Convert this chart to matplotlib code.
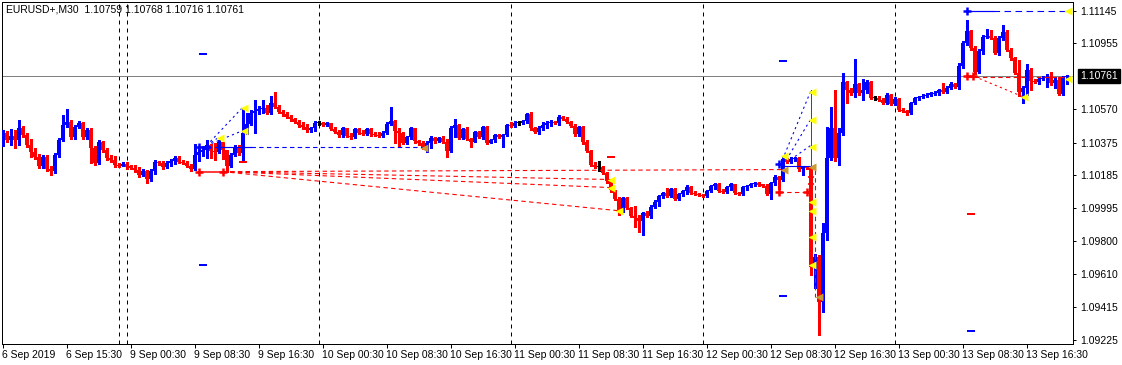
"""EURUSD+ M30 candle chart with the indicator overlays, MT4 style."""

import matplotlib
matplotlib.use("Agg")
import matplotlib.pyplot as plt
import numpy as np

# ---- price data (one entry per 30-minute bar, oldest first) ----
first_open = 1.10374

closes = [
    1.10433, 1.10392, 1.10415, 1.10392, 1.10462, 1.10421, 1.10363, 1.10322, 1.10293, 1.10240,
    1.10293, 1.10223, 1.10211, 1.10304, 1.10392, 1.10479, 1.10497, 1.10409, 1.10468, 1.10491,
    1.10409, 1.10450, 1.10345, 1.10258, 1.10380, 1.10334, 1.10287, 1.10275, 1.10246, 1.10240,
    1.10252, 1.10234, 1.10229, 1.10217, 1.10188, 1.10211, 1.10164, 1.10211, 1.10264, 1.10258,
    1.10234, 1.10258, 1.10269, 1.10287, 1.10264, 1.10258, 1.10240, 1.10223, 1.10304, 1.10322,
    1.10334, 1.10363, 1.10328, 1.10322, 1.10380, 1.10334, 1.10240, 1.10304, 1.10351, 1.10316,
    1.10433, 1.10485, 1.10550, 1.10561, 1.10573, 1.10579, 1.10550, 1.10608, 1.10585, 1.10555,
    1.10544, 1.10526, 1.10515, 1.10497, 1.10479, 1.10468, 1.10450, 1.10462, 1.10491, 1.10491,
    1.10479, 1.10491, 1.10456, 1.10439, 1.10421, 1.10462, 1.10415, 1.10409, 1.10456, 1.10433,
    1.10427, 1.10456, 1.10427, 1.10421, 1.10415, 1.10433, 1.10485, 1.10503, 1.10444, 1.10433,
    1.10374, 1.10409, 1.10462, 1.10386, 1.10374, 1.10351, 1.10374, 1.10404, 1.10386, 1.10404,
    1.10380, 1.10328, 1.10462, 1.10479, 1.10404, 1.10456, 1.10398, 1.10380, 1.10439, 1.10409,
    1.10468, 1.10374, 1.10392, 1.10421, 1.10409, 1.10421, 1.10479, 1.10474, 1.10491, 1.10491,
    1.10503, 1.10544, 1.10462, 1.10439, 1.10462, 1.10479, 1.10491, 1.10497, 1.10491, 1.10526,
    1.10515, 1.10497, 1.10474, 1.10427, 1.10468, 1.10380, 1.10328, 1.10246, 1.10234, 1.10234,
    1.10199, 1.10153, 1.10100, 1.10048, 1.09972, 1.10054, 1.09995, 1.09948, 1.09937, 1.09919,
    1.09966, 1.09948, 1.10001, 1.10030, 1.10065, 1.10083, 1.10065, 1.10106, 1.10048, 1.10077,
    1.10094, 1.10118, 1.10083, 1.10077, 1.10071, 1.10065, 1.10094, 1.10124, 1.10135, 1.10094,
    1.10088, 1.10118, 1.10135, 1.10083, 1.10077, 1.10118, 1.10124, 1.10135, 1.10141, 1.10129,
    1.10124, 1.10077, 1.10141, 1.10176, 1.10159, 1.10281, 1.10264, 1.10281, 1.10287, 1.10223,
    1.10234, 1.10229, 1.09651, 1.09709, 1.09446, 1.09849, 1.10287, 1.10462, 1.10287, 1.10433,
    1.10730, 1.10684, 1.10666, 1.10719, 1.10666, 1.10684, 1.10730, 1.10637, 1.10637, 1.10625,
    1.10608, 1.10655, 1.10602, 1.10631, 1.10567, 1.10561, 1.10550, 1.10608, 1.10637, 1.10643,
    1.10649, 1.10655, 1.10660, 1.10666, 1.10684, 1.10672, 1.10695, 1.10719, 1.10701, 1.10824,
    1.10958, 1.11028, 1.10929, 1.10789, 1.10911, 1.10993, 1.10999, 1.10987, 1.10900, 1.10987,
    1.11022, 1.10917, 1.10870, 1.10783, 1.10672, 1.10695, 1.10800, 1.10736, 1.10730, 1.10748,
    1.10754, 1.10760, 1.10725, 1.10742, 1.10660, 1.10759, 1.10761,
]

highs = [
    1.10450, 1.10444, 1.10456, 1.10450, 1.10509, 1.10474, 1.10433, 1.10398, 1.10345, 1.10310,
    1.10304, 1.10304, 1.10240, 1.10316, 1.10404, 1.10538, 1.10573, 1.10509, 1.10479, 1.10503,
    1.10497, 1.10462, 1.10462, 1.10357, 1.10392, 1.10386, 1.10345, 1.10304, 1.10299, 1.10258,
    1.10264, 1.10264, 1.10246, 1.10246, 1.10234, 1.10223, 1.10217, 1.10223, 1.10275, 1.10269,
    1.10269, 1.10269, 1.10281, 1.10299, 1.10299, 1.10275, 1.10269, 1.10252, 1.10369, 1.10357,
    1.10357, 1.10392, 1.10369, 1.10374, 1.10392, 1.10380, 1.10334, 1.10316, 1.10363, 1.10363,
    1.10573, 1.10550, 1.10567, 1.10625, 1.10590, 1.10625, 1.10596, 1.10649, 1.10672, 1.10596,
    1.10567, 1.10555, 1.10538, 1.10520, 1.10509, 1.10497, 1.10485, 1.10468, 1.10503, 1.10503,
    1.10497, 1.10497, 1.10491, 1.10468, 1.10450, 1.10468, 1.10462, 1.10433, 1.10462, 1.10462,
    1.10450, 1.10462, 1.10462, 1.10439, 1.10439, 1.10444, 1.10497, 1.10585, 1.10509, 1.10462,
    1.10439, 1.10415, 1.10468, 1.10462, 1.10392, 1.10386, 1.10386, 1.10415, 1.10409, 1.10409,
    1.10415, 1.10398, 1.10474, 1.10515, 1.10485, 1.10462, 1.10468, 1.10404, 1.10444, 1.10444,
    1.10474, 1.10474, 1.10398, 1.10427, 1.10427, 1.10427, 1.10485, 1.10497, 1.10503, 1.10503,
    1.10509, 1.10550, 1.10555, 1.10468, 1.10474, 1.10497, 1.10503, 1.10509, 1.10503, 1.10538,
    1.10532, 1.10526, 1.10503, 1.10485, 1.10474, 1.10474, 1.10392, 1.10334, 1.10264, 1.10269,
    1.10240, 1.10205, 1.10164, 1.10100, 1.10059, 1.10059, 1.10059, 1.10001, 1.10007, 1.09954,
    1.09972, 1.09978, 1.10013, 1.10042, 1.10071, 1.10088, 1.10112, 1.10112, 1.10112, 1.10083,
    1.10100, 1.10129, 1.10124, 1.10094, 1.10083, 1.10077, 1.10100, 1.10129, 1.10141, 1.10141,
    1.10106, 1.10124, 1.10141, 1.10135, 1.10088, 1.10124, 1.10129, 1.10141, 1.10147, 1.10147,
    1.10135, 1.10135, 1.10147, 1.10188, 1.10182, 1.10293, 1.10287, 1.10293, 1.10293, 1.10293,
    1.10240, 1.10240, 1.10234, 1.09727, 1.09721, 1.09908, 1.10468, 1.10585, 1.10684, 1.10462,
    1.10783, 1.10736, 1.10695, 1.10865, 1.10725, 1.10748, 1.10742, 1.10736, 1.10649, 1.10649,
    1.10637, 1.10666, 1.10660, 1.10643, 1.10637, 1.10579, 1.10567, 1.10614, 1.10643, 1.10649,
    1.10660, 1.10666, 1.10672, 1.10678, 1.10690, 1.10725, 1.10707, 1.10730, 1.10725, 1.10841,
    1.10970, 1.11092, 1.11034, 1.10941, 1.10923, 1.11005, 1.11040, 1.11034, 1.10999, 1.10999,
    1.11063, 1.11034, 1.10929, 1.10876, 1.10859, 1.10707, 1.10835, 1.10812, 1.10748, 1.10760,
    1.10765, 1.10777, 1.10789, 1.10760, 1.10760, 1.10765, 1.10768,
]

lows = [
    1.10357, 1.10380, 1.10363, 1.10345, 1.10363, 1.10409, 1.10351, 1.10293, 1.10281, 1.10229,
    1.10229, 1.10211, 1.10188, 1.10199, 1.10293, 1.10386, 1.10468, 1.10398, 1.10398, 1.10462,
    1.10398, 1.10398, 1.10258, 1.10246, 1.10252, 1.10322, 1.10275, 1.10264, 1.10234, 1.10234,
    1.10240, 1.10223, 1.10223, 1.10205, 1.10176, 1.10182, 1.10141, 1.10153, 1.10193, 1.10246,
    1.10223, 1.10229, 1.10240, 1.10252, 1.10258, 1.10252, 1.10234, 1.10211, 1.10217, 1.10269,
    1.10299, 1.10287, 1.10287, 1.10275, 1.10316, 1.10281, 1.10205, 1.10234, 1.10299, 1.10304,
    1.10264, 1.10427, 1.10479, 1.10433, 1.10544, 1.10550, 1.10544, 1.10544, 1.10579, 1.10550,
    1.10532, 1.10520, 1.10503, 1.10491, 1.10468, 1.10456, 1.10439, 1.10439, 1.10444, 1.10479,
    1.10474, 1.10474, 1.10450, 1.10433, 1.10409, 1.10409, 1.10409, 1.10398, 1.10404, 1.10427,
    1.10421, 1.10421, 1.10415, 1.10415, 1.10409, 1.10409, 1.10427, 1.10479, 1.10374, 1.10351,
    1.10369, 1.10369, 1.10398, 1.10374, 1.10363, 1.10339, 1.10322, 1.10345, 1.10374, 1.10380,
    1.10374, 1.10293, 1.10322, 1.10409, 1.10398, 1.10398, 1.10392, 1.10351, 1.10380, 1.10404,
    1.10398, 1.10369, 1.10374, 1.10380, 1.10404, 1.10351, 1.10415, 1.10468, 1.10468, 1.10479,
    1.10485, 1.10491, 1.10450, 1.10433, 1.10427, 1.10450, 1.10462, 1.10474, 1.10485, 1.10479,
    1.10509, 1.10491, 1.10468, 1.10415, 1.10415, 1.10369, 1.10322, 1.10240, 1.10229, 1.10211,
    1.10193, 1.10141, 1.10088, 1.10042, 1.09954, 1.09972, 1.09989, 1.09943, 1.09884, 1.09855,
    1.09838, 1.09943, 1.09937, 1.09995, 1.10007, 1.10054, 1.10059, 1.10059, 1.10042, 1.10042,
    1.10065, 1.10077, 1.10077, 1.10071, 1.10065, 1.10059, 1.10059, 1.10088, 1.10106, 1.10088,
    1.10083, 1.10083, 1.10100, 1.10077, 1.10071, 1.10071, 1.10100, 1.10118, 1.10124, 1.10124,
    1.10118, 1.10071, 1.10048, 1.10129, 1.10106, 1.10153, 1.10258, 1.10258, 1.10269, 1.10211,
    1.10188, 1.10223, 1.09604, 1.09528, 1.09254, 1.09388, 1.09808, 1.10275, 1.10269, 1.10246,
    1.10421, 1.10608, 1.10655, 1.10643, 1.10655, 1.10625, 1.10666, 1.10631, 1.10625, 1.10620,
    1.10602, 1.10602, 1.10596, 1.10596, 1.10561, 1.10555, 1.10538, 1.10544, 1.10602, 1.10625,
    1.10637, 1.10643, 1.10649, 1.10655, 1.10655, 1.10666, 1.10666, 1.10690, 1.10695, 1.10690,
    1.10812, 1.10946, 1.10917, 1.10777, 1.10783, 1.10894, 1.10987, 1.10981, 1.10894, 1.10888,
    1.10976, 1.10911, 1.10859, 1.10777, 1.10649, 1.10608, 1.10655, 1.10684, 1.10725, 1.10719,
    1.10742, 1.10701, 1.10713, 1.10695, 1.10655, 1.10655, 1.10716,
]

# ---- axis labels ----
time_labels = [
    "6 Sep 2019", "6 Sep 15:30", "9 Sep 00:30", "9 Sep 08:30", "9 Sep 16:30",
    "10 Sep 00:30", "10 Sep 08:30", "10 Sep 16:30", "11 Sep 00:30", "11 Sep 08:30",
    "11 Sep 16:30", "12 Sep 00:30", "12 Sep 08:30", "12 Sep 16:30", "13 Sep 00:30",
    "13 Sep 08:30", "13 Sep 16:30",
]
price_ticks = [1.11145, 1.10955, 1.10570, 1.10375, 1.10185, 1.09995,
               1.09800, 1.09610, 1.09415, 1.09225]
last_price = 1.10761
separator_bars = [29, 31, 79, 127, 175, 223]

# ---- indicator overlays (bar index, price) ----
red_fan_start = (55, 1.10205)
red_fan_ends = [(195, 1.10217), (152, 1.10159), (152, 1.10112), (154, 1.09977)]
blue_fan_start = (51, 1.10357)
blue_fan_ends = [(60, 1.10579), (60, 1.10444), (54, 1.10404)]
blue_fan2_starts = [(195, 1.10275), (196, 1.10275), (197, 1.10275)]
blue_fan2_ends = [(202, 1.10672), (202, 1.10509), (202, 1.10357)]

yellow_tri = [
    (54.4, 1.10404), (60.4, 1.10444), (60.4, 1.10579), (152.1, 1.10159),
    (152.1, 1.10112), (154.1, 1.09977), (195.4, 1.10299), (202.4, 1.10672),
    (202.4, 1.10509), (202.4, 1.10351), (202.4, 1.10030), (202.4, 1.09978),
    (202.4, 1.09826), (202.4, 1.09662), (255.4, 1.10643), (266.4, 1.11145),
    (266.4, 1.10748),
]
orange_tri = [(105.4, 1.10340), (195.4, 1.10217), (202.4, 1.10234), (204.1, 1.09476)]

blue_ticks = [(50, 1.10894), (50, 1.09662), (195, 1.10853), (195, 1.09481), (242, 1.09277)]
red_ticks = [(60, 1.10264), (152, 1.10293), (242, 1.09960)]

BLUE = "#0000ff"
RED = "#ff0000"
YELLOW = "#ffff00"
ORANGE = "#cc9933"
FONT = "Liberation Sans"
PX = 0.72  # one pixel in points at dpi 100

W, H = 1122, 365
fig = plt.figure(figsize=(W / 100, H / 100), dpi=100)
ax = fig.add_axes([2 / W, 21 / H, 1071 / W, 342 / H])

opens = [first_open] + closes[:-1]
o = np.array(opens)
c = np.array(closes)
hi = np.array(highs)
lo = np.array(lows)
x = np.arange(len(c))

colors = np.where(c > o, BLUE, np.where(c < o, RED, "black"))

# background lines first
for b in separator_bars:
    ax.axvline(b, color="black", lw=PX, ls=(0, (4, 4)), zorder=1)
ax.axhline(last_price, color="#808080", lw=PX, zorder=1)

# candles, drawn crisp like the terminal does
ax.vlines(x, lo, hi, colors=colors, lw=1.0, zorder=3, antialiased=False)
body_lo = np.minimum(o, c)
body_h = np.maximum(np.abs(c - o), 0.00006)
bars = ax.bar(x, body_h, bottom=body_lo, width=0.7, color=colors, linewidth=0, zorder=4)
for r in bars:
    r.set_antialiased(False)

# red fan lines from the left anchor
sx, sy = red_fan_start
for ex, ey in red_fan_ends:
    ax.plot([sx, ex], [sy, ey], color=RED, lw=PX * 1.1, ls=(0, (4, 3)), zorder=5)
ax.plot([49, 55], [1.10205, 1.10205], color=RED, lw=PX * 1.5, zorder=5)
ax.plot([49, 55], [1.10205, 1.10205], ls="none", marker="+", ms=6, mew=1.8,
        color=RED, zorder=6)

# blue level and small fan (9 Sep)
ax.plot([53, 62], [1.10351, 1.10351], color=BLUE, lw=PX * 1.2, zorder=5)
ax.plot([62, 105], [1.10346, 1.10346], color=BLUE, lw=PX * 1.1, ls=(0, (4, 3)), zorder=5)
ax.plot([49, 51], [1.10351, 1.10351], ls="none", marker="+", ms=6, mew=1.8,
        color=BLUE, zorder=6)
sx, sy = blue_fan_start
for ex, ey in blue_fan_ends:
    ax.plot([sx, ex], [sy, ey], color=BLUE, lw=PX * 1.1, ls=(0, (2, 3)), zorder=5)

# ECB spike overlays (12 Sep)
for (sx, sy), (ex, ey) in zip(blue_fan2_starts, blue_fan2_ends):
    ax.plot([sx, ex], [sy, ey], color=BLUE, lw=PX * 1.1, ls=(0, (2, 3)), zorder=5)
ax.plot([195, 202], [1.10240, 1.10240], color=BLUE, lw=PX * 1.1, zorder=5)
ax.plot([194], [1.10252], ls="none", marker="+", ms=6, mew=1.8, color=BLUE, zorder=6)
ax.plot([194, 201], [1.10088, 1.10088], color=RED, lw=PX * 1.1, ls=(0, (4, 3)), zorder=5)
ax.plot([194, 201], [1.10088, 1.10088], ls="none", marker="+", ms=6, mew=1.8,
        color=RED, zorder=6)
ax.plot([202, 202], [1.10229, 1.10684], color=RED, lw=PX, zorder=5)
ax.plot([203, 203], [1.10217, 1.09476], color=RED, lw=PX * 1.1, ls=(0, (4, 3)), zorder=5)
ax.plot([202, 202], [1.10176, 1.10135], ls="none", marker="+", ms=5, mew=1.2,
        color=RED, zorder=6)

# 13 Sep high / level lines
ax.plot([241, 247.5], [1.11145, 1.11145], color=BLUE, lw=PX * 1.2, zorder=5)
ax.plot([247.5, 266], [1.11145, 1.11145], color=BLUE, lw=PX * 1.1, ls=(0, (6, 4)), zorder=5)
ax.plot([241], [1.11145], ls="none", marker="+", ms=6, mew=1.8, color=BLUE, zorder=6)
ax.plot([241, 266], [1.10760, 1.10760], color=RED, lw=PX * 1.1, ls=(0, (4, 3)), zorder=5)
ax.plot([243, 255], [1.10760, 1.10643], color=RED, lw=PX * 1.1, ls=(0, (2, 3)), zorder=5)
ax.plot([241, 242.5], [1.10765, 1.10765], ls="none", marker="+", ms=6, mew=1.8,
        color=RED, zorder=6)

# short level ticks
for bx, p in blue_ticks:
    ax.plot([bx - 1, bx + 1], [p, p], color=BLUE, lw=PX * 2, solid_capstyle="butt", zorder=5)
for bx, p in red_ticks:
    ax.plot([bx - 1, bx + 1], [p, p], color=RED, lw=PX * 2, solid_capstyle="butt", zorder=5)

# arrow markers
tx, ty = zip(*yellow_tri)
ax.plot(tx, ty, ls="none", marker="<", ms=6, color=YELLOW, mec="none", zorder=7)
tx, ty = zip(*orange_tri)
ax.plot(tx, ty, ls="none", marker="<", ms=6, color=ORANGE, mec="none", zorder=7)

# ---- axes ----
ax.set_xlim(-0.125, 267.625)
ax.set_ylim(1.09199, 1.11195)
ax.set_facecolor("white")
for s in ax.spines.values():
    s.set_color("black")
    s.set_linewidth(PX)

ax.yaxis.tick_right()
ax.set_yticks(price_ticks)
ax.set_yticklabels([f"{p:.5f}" for p in price_ticks], fontsize=7.5, family=FONT)
ax.tick_params(axis="y", direction="out", length=2.5, width=PX, pad=3)

ax.set_xticks(np.arange(0, 16 * len(time_labels), 16))
ax.set_xticklabels(time_labels, fontsize=7.5, family=FONT)
for lab in ax.get_xticklabels():
    lab.set_horizontalalignment("left")
ax.tick_params(axis="x", direction="out", length=3, width=PX, pad=1.5)

ax.annotate(f"{last_price:.5f}", xy=(1, last_price), xycoords=("axes fraction", "data"),
            xytext=(5, 0), textcoords="offset points", va="center", ha="left",
            color="white", fontsize=7.5, family=FONT,
            bbox=dict(boxstyle="square,pad=0.2", fc="black", ec="black"))

fig.text(6 / W, 1 - 10 / H, "EURUSD+,M30  1.10759 1.10768 1.10716 1.10761",
         fontsize=7.5, family=FONT, va="center", ha="left")

fig.savefig("out.png", dpi=100, facecolor="white")
